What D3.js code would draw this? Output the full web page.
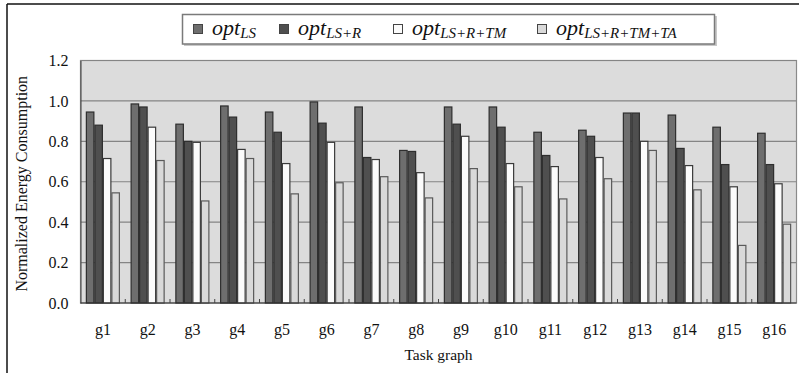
<!DOCTYPE html>
<html>
<head>
  <meta charset="utf-8">
  <title>Normalized Energy Consumption</title>
  <style>
    body { margin: 0; background: #fff; }
    svg { display: block; font-family: "Liberation Serif", "DejaVu Serif", serif; }
    .grid line { stroke: #858585; stroke-width: 1.2px; }
    .tick text { fill: #111; }
  </style>
</head>
<body>
  <svg id="chart"></svg>

  <script src="https://d3js.org/d3.v7.min.js"></script>
  <script>
    // data
    const groups = ["g1", "g2", "g3", "g4", "g5", "g6", "g7", "g8",
                    "g9", "g10", "g11", "g12", "g13", "g14", "g15", "g16"];
    const seriesNames = ["LS", "LS+R", "LS+R+TM", "LS+R+TM+TA"];
    const optLS      = [0.945, 0.985, 0.885, 0.975, 0.945, 0.995, 0.97, 0.755, 0.97, 0.97, 0.845, 0.855, 0.94, 0.93, 0.87, 0.84];
    const optLSR     = [0.88, 0.97, 0.80, 0.92, 0.845, 0.89, 0.72, 0.75, 0.885, 0.87, 0.73, 0.825, 0.94, 0.765, 0.685, 0.685];
    const optLSRTM   = [0.715, 0.87, 0.795, 0.76, 0.69, 0.795, 0.71, 0.645, 0.825, 0.69, 0.675, 0.72, 0.80, 0.68, 0.575, 0.59];
    const optLSRTMTA = [0.545, 0.705, 0.505, 0.715, 0.54, 0.595, 0.625, 0.52, 0.665, 0.575, 0.515, 0.615, 0.755, 0.56, 0.285, 0.39];
    const yTicks = [0, 0.2, 0.4, 0.6, 0.8, 1.0, 1.2];

    const series = [optLS, optLSR, optLSRTM, optLSRTMTA];
    const fills = ["#6e6e6e", "#4f4f4f", "#fbfbfb", "#d9d9d9"];
    const strokes = ["#2e2e2e", "#2e2e2e", "#3a3a3a", "#5a5a5a"];

    const W = 799, H = 373;
    const m = { left: 80.5, right: 2.5, top: 60.5, bottom: 70 };

    const svg = d3.select("#chart").attr("width", W).attr("height", H);

    // outer frame (top and left edges only show)
    svg.append("line").attr("x1", 7).attr("x2", W).attr("y1", 4).attr("y2", 4)
      .attr("stroke", "#111").attr("stroke-width", 1.5);
    svg.append("line").attr("x1", 7).attr("x2", 7).attr("y1", 4).attr("y2", H)
      .attr("stroke", "#111").attr("stroke-width", 1.5);

    const x0 = d3.scaleBand().domain(groups)
      .range([m.left, W - m.right]).paddingInner(0.24).paddingOuter(0.12);
    const x1 = d3.scaleBand().domain(d3.range(series.length))
      .range([0, x0.bandwidth()]);
    const y = d3.scaleLinear().domain([0, 1.2]).range([H - m.bottom, m.top]);

    // plot background
    svg.append("rect")
      .attr("x", m.left).attr("y", m.top)
      .attr("width", W - m.right - m.left).attr("height", y(0) - m.top)
      .attr("fill", "#dcdcdc").attr("stroke", "#8a8a8a").attr("stroke-width", 1.2);

    // grid lines
    svg.append("g").attr("class", "grid")
      .selectAll("line").data(yTicks.slice(1)).enter().append("line")
      .attr("x1", m.left).attr("x2", W - m.right)
      .attr("y1", d => y(d)).attr("y2", d => y(d));

    // bars
    const grp = svg.append("g").selectAll("g").data(groups).enter().append("g")
      .attr("transform", d => `translate(${x0(d)},0)`);
    grp.selectAll("rect")
      .data((g, gi) => series.map((s, si) => ({ si, v: s[gi] })))
      .enter().append("rect")
      .attr("x", d => x1(d.si) + 0.5)
      .attr("y", d => y(d.v))
      .attr("width", x1.bandwidth() - 1)
      .attr("height", d => y(0) - y(d.v))
      .attr("fill", d => fills[d.si])
      .attr("stroke", d => strokes[d.si])
      .attr("stroke-width", 1.2);

    // y axis
    const yAxis = svg.append("g").attr("transform", `translate(${m.left},0)`)
      .call(d3.axisLeft(y).tickValues(yTicks).tickFormat(d3.format(".1f")).tickSize(0).tickPadding(12));
    yAxis.select(".domain").attr("stroke", "#444");
    yAxis.selectAll("text").attr("font-size", 16).attr("font-family", "Liberation Serif");

    // x axis with small inner ticks at group boundaries
    svg.append("line").attr("x1", m.left).attr("x2", W - m.right)
      .attr("y1", y(0)).attr("y2", y(0)).attr("stroke", "#333").attr("stroke-width", 1.2);
    svg.append("g").selectAll("line").data(groups.slice(1)).enter().append("line")
      .attr("x1", d => x0(d) - x0.step() * 0.12)
      .attr("x2", d => x0(d) - x0.step() * 0.12)
      .attr("y1", y(0)).attr("y2", y(0) - 4)
      .attr("stroke", "#444");
    svg.append("g").selectAll("text").data(groups).enter().append("text")
      .attr("x", d => x0(d) + x0.bandwidth() / 2)
      .attr("y", 335)
      .attr("text-anchor", "middle")
      .attr("font-size", 16)
      .attr("fill", "#111")
      .text(d => d);

    // axis titles
    svg.append("text")
      .attr("x", (m.left + W - m.right) / 2).attr("y", 360)
      .attr("text-anchor", "middle").attr("font-size", 15.5).attr("fill", "#111")
      .text("Task graph");
    svg.append("text")
      .attr("transform", `translate(27,${(m.top + y(0)) / 2 + 2}) rotate(-90)`)
      .attr("text-anchor", "middle").attr("font-size", 16).attr("fill", "#111")
      .text("Normalized Energy Consumption");

    // legend
    svg.append("rect").attr("x", 184).attr("y", 16).attr("width", 533).attr("height", 30)
      .attr("fill", "#c8c8c8");
    svg.append("rect").attr("x", 182.5).attr("y", 14.5).attr("width", 532).attr("height", 29.5)
      .attr("fill", "#fff").attr("stroke", "#7a7a7a").attr("stroke-width", 1.5);
    const legX = [193, 279, 393, 537];
    const leg = svg.append("g").selectAll("g").data(seriesNames).enter().append("g")
      .attr("transform", (d, i) => `translate(${legX[i]},0)`);
    leg.append("rect").attr("x", 0.5).attr("y", 24.5).attr("width", 9).attr("height", 9)
      .attr("fill", (d, i) => fills[i]).attr("stroke", "#444");
    const lt = leg.append("text").attr("x", 19).attr("y", 35)
      .attr("font-style", "italic").attr("fill", "#111");
    lt.append("tspan").attr("font-size", 22).text("opt");
    lt.append("tspan").attr("font-size", 15).attr("dy", 3).text(d => d);
  </script>
</body>
</html>
